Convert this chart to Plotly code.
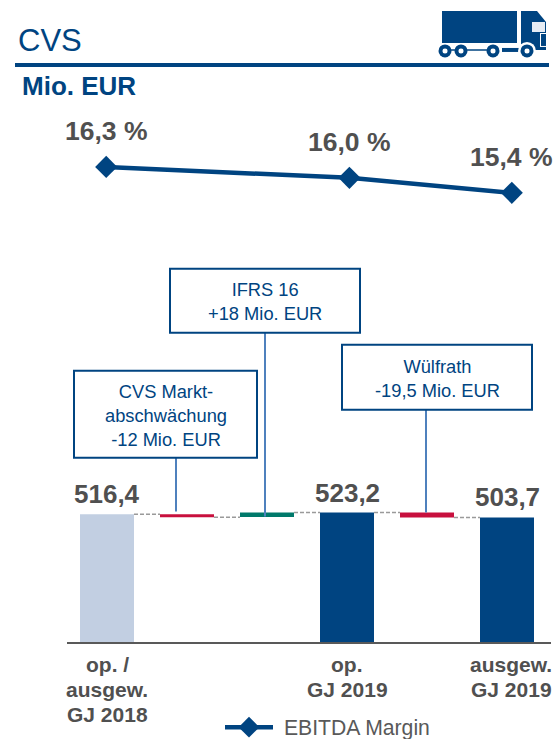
import plotly.graph_objects as go

# ---------- data ----------
categories = ["op. / ausgew. GJ 2018", "Markt", "IFRS 16", "op. GJ 2019", "Wülfrath", "ausgew. GJ 2019"]
bar_base = [0, 504.4, 505.2, 0, 503.7, 0]
bar_height = [516.4, 12, 18, 523.2, 19.5, 503.7]
bar_colors = ["#c2cfe2", "#c8103e", "#00796b", "#004481", "#c8103e", "#004481"]
connector_levels = [516.4, 504.4, 523.2, 523.2, 503.7]
total_positions = [0, 3, 5]
total_values = [516.4, 523.2, 503.7]
total_labels = ["516,4", "523,2", "503,7"]
tick_positions = [0, 3, 5.05]
tick_lines = [["op. /", "ausgew.", "GJ 2018"], ["op.", "GJ 2019"], ["ausgew.", "GJ 2019"]]
margin_x = [-0.01, 3.03, 5.06]
margin_y = [16.3, 15.92, 15.4]
margin_labels = ["16,3 %", "16,0 %", "15,4 %"]

BLUE = "#004481"
GREY = "#505050"
LEADER = "#4f81bd"
FONT = "Liberation Sans"
W, H = 558, 739
LEFT, RIGHT, BOTTOM = 67, 551, 642.5


def px(x):
    return (x - LEFT) / (RIGHT - LEFT)


def py(y):
    return 1 - y / BOTTOM


fig = go.Figure()
fig.add_trace(go.Bar(
    x=list(range(len(categories))), y=bar_height, base=bar_base, width=0.675,
    marker=dict(color=bar_colors, line=dict(width=0)),
    showlegend=False, hoverinfo="skip",
))
for i, level in enumerate(connector_levels):
    fig.add_trace(go.Scatter(
        x=[i + 0.3375, i + 0.6625], y=[level, level], mode="lines",
        line=dict(color="#9a9a9a", width=1.5, dash="4px,2px"),
        showlegend=False, hoverinfo="skip",
    ))
fig.add_trace(go.Scatter(
    x=margin_x, y=margin_y, yaxis="y2", mode="lines+markers", name="\u00a0EBITDA Margin",
    line=dict(color=BLUE, width=4.5),
    marker=dict(symbol="diamond", size=17, color=BLUE),
))

annotations = []
for x, y, t in zip(total_positions, total_values, total_labels):
    annotations.append(dict(x=x, y=y, xref="x", yref="y", text=t, showarrow=False,
                            yshift=20, yanchor="middle", xanchor="center",
                            font=dict(family=FONT, size=26, color=GREY, weight="bold")))
for x, y, t in zip(margin_x, margin_y, margin_labels):
    annotations.append(dict(x=x, y=y, xref="x", yref="y2", text=t, showarrow=False,
                            yshift=35.5, yanchor="middle", xanchor="center",
                            font=dict(family=FONT, size=26.5, color=GREY, weight="bold")))
for x, lines in zip(tick_positions, tick_lines):
    for j, line in enumerate(lines):
        annotations.append(dict(x=x, y=py(665 + 25 * j), xref="x", yref="paper", text=line, showarrow=False,
                                yanchor="middle", xanchor="center",
                                font=dict(family=FONT, size=21, color=GREY, weight="bold")))


def text_px(x, y, text, size, color=BLUE, bold=False, anchor="center"):
    annotations.append(dict(x=px(x), y=py(y), xref="paper", yref="paper", text=text, showarrow=False,
                            xanchor=anchor, yanchor="middle", align="center",
                            font=dict(family=FONT, size=size, color=color,
                                      weight="bold" if bold else "normal")))


text_px(16, 41, "CVS", 31, anchor="left")
text_px(20, 86, "Mio. EUR", 26, bold=True, anchor="left")
text_px(165.5, 415.5, "CVS Markt-<br>abschwächung<br>-12 Mio. EUR", 18.3)
text_px(265, 302, "IFRS 16<br>+18 Mio. EUR", 18.3)
text_px(437, 379, "Wülfrath<br>-19,5 Mio. EUR", 18.3)

shapes = []


def rect(x0, y0, x1, y1, fill=None, line=None, lw=0, layer="above"):
    shapes.append(dict(type="rect", xref="paper", yref="paper", x0=px(x0), x1=px(x1), y0=py(y0), y1=py(y1),
                       fillcolor=fill or "rgba(0,0,0,0)", line=dict(color=line or "rgba(0,0,0,0)", width=lw),
                       layer=layer))


def circle(cx, cy, r, fill):
    shapes.append(dict(type="circle", xref="paper", yref="paper", x0=px(cx - r), x1=px(cx + r),
                       y0=py(cy - r), y1=py(cy + r), fillcolor=fill, line=dict(width=0)))


def seg(x0, y0, x1, y1, color, w):
    shapes.append(dict(type="line", xref="paper", yref="paper", x0=px(x0), x1=px(x1), y0=py(y0), y1=py(y1),
                       line=dict(color=color, width=w)))


# header rule
rect(15, 63, 549, 67, fill=BLUE)
# callouts
seg(176, 458, 176, 512, LEADER, 2)
seg(265, 333, 265, 517, LEADER, 2)
seg(426, 410, 426, 513, LEADER, 2)
rect(74, 371, 257, 458, line=BLUE, lw=2)
rect(170, 269, 360, 333, line=BLUE, lw=2)
rect(342, 345, 532, 410, line=BLUE, lw=2)
# truck icon
rect(442, 11, 517, 43, fill=BLUE)
cab = [(521, 11), (537, 11), (546, 22), (546, 50), (521, 50)]
path = "M " + " L ".join(f"{px(x)},{py(y)}" for x, y in cab) + " Z"
shapes.append(dict(type="path", xref="paper", yref="paper", path=path, fillcolor=BLUE, line=dict(width=0)))
rect(532, 22, 545, 32, fill="#e6ecf4")
rect(540, 33, 546, 47, fill="#ffffff")
rect(541, 34, 546, 46, fill=BLUE)
seg(445, 50, 495, 50, BLUE, 1.5)
rect(502, 48, 522, 52, fill=BLUE)
circle(527, 51, 9, "#ffffff")
for cx in (445, 461, 493, 527):
    circle(cx, 51, 6.5, BLUE)
    circle(cx, 51, 2.5, "#ffffff")

fig.update_layout(
    width=W, height=H, autosize=False,
    margin=dict(l=LEFT, r=W - RIGHT, t=0, b=H - BOTTOM, pad=0, autoexpand=False),
    paper_bgcolor="white", plot_bgcolor="rgba(0,0,0,0)",
    barmode="overlay",
    xaxis=dict(range=[(LEFT - 107) / 80, (RIGHT - 107) / 80], showgrid=False, zeroline=False, showline=True,
               linecolor="#595959", linewidth=2, showticklabels=False, ticks="", anchor="y"),
    yaxis=dict(domain=[0, 0.4], range=[0, 1038], visible=False),
    yaxis2=dict(domain=[0.6, 1], range=[13.186, 22.08], visible=False, anchor="x"),
    showlegend=True,
    legend=dict(orientation="h", x=px(220), y=py(728), xanchor="left", yanchor="middle", itemwidth=48,
                bgcolor="rgba(0,0,0,0)", font=dict(family=FONT, size=21.2, color="#595959")),
    shapes=shapes, annotations=annotations,
)

fig.write_html(
    "out.html",
    config={"displayModeBar": False},
    post_script="document.documentElement.style.margin='0';document.body.style.margin='0';document.body.style.overflow='hidden';",
)
